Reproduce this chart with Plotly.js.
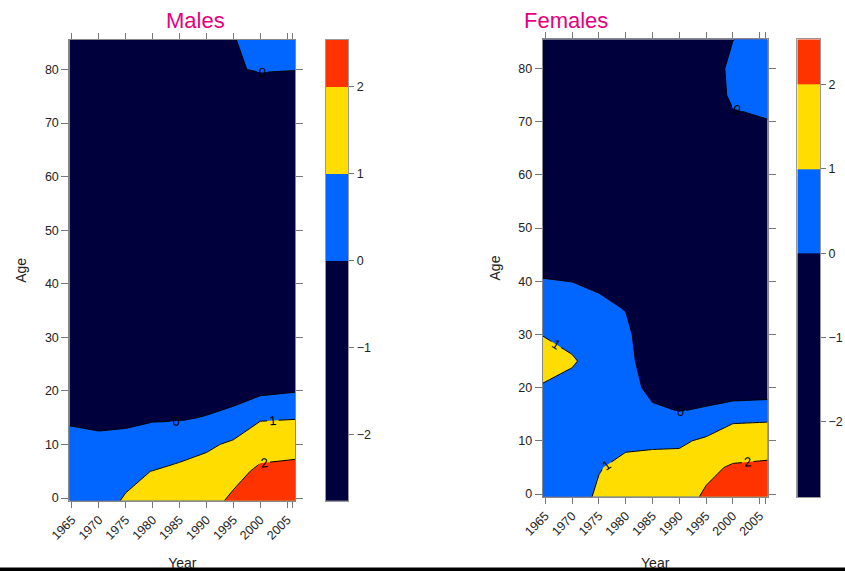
<!DOCTYPE html>
<html>
<head>
<meta charset="utf-8">
<script src="https://cdn.plot.ly/plotly-3.0.1.min.js"></script>
<style>
  html, body { margin: 0; padding: 0; background: #fff; }
  #chart { width: 845px; height: 571px; }
</style>
</head>
<body>
<div id="chart"></div>
<script>
// Grid of the surface: calendar years (columns) and ages (rows)
const years = [1964.5, 1970, 1975, 1980, 1985, 1990, 1995, 2000, 2006.5];
const ages = [-0.5, 5, 10, 15, 20, 25, 30, 35, 40, 50, 60, 70, 75, 80, 85.5];

// Males: one row per age, one value per year column
const malesZ = [
  [ 0.80,  0.85,  1.04,  1.40,  1.50,  1.70,  2.15,  2.40,  2.54],
  [ 0.60,  0.65,  0.89,  1.01,  1.15,  1.35,  1.75,  2.15,  2.20],
  [ 0.35,  0.25,  0.30,  0.50,  0.70,  0.85,  1.15,  1.65,  1.75],
  [-0.15, -0.25, -0.20, -0.10, -0.10,  0.05,  0.30,  0.90,  0.95],
  [-0.80, -0.90, -0.85, -0.75, -0.70, -0.50, -0.40, -0.20, -0.05],
  [-1.20, -1.30, -1.30, -1.20, -1.10, -0.95, -0.85, -0.70, -0.60],
  [-1.50, -1.55, -1.55, -1.45, -1.35, -1.20, -1.10, -1.00, -0.90],
  [-1.65, -1.70, -1.70, -1.60, -1.50, -1.40, -1.30, -1.20, -1.10],
  [-1.80, -1.85, -1.85, -1.75, -1.65, -1.55, -1.45, -1.35, -1.30],
  [-2.00, -2.05, -2.05, -1.95, -1.85, -1.75, -1.65, -1.55, -1.50],
  [-2.20, -2.25, -2.20, -2.10, -2.00, -1.90, -1.80, -1.70, -1.65],
  [-2.30, -2.40, -2.30, -2.20, -2.10, -1.95, -1.85, -1.60, -1.55],
  [-2.40, -2.50, -2.40, -2.30, -2.20, -1.80, -1.60, -1.20, -1.20],
  [-2.50, -2.60, -2.50, -2.40, -2.25, -1.20, -0.15,  0.15,  0.05],
  [-2.60, -2.76, -2.60, -2.45, -2.30, -0.80, -0.05,  0.40,  0.45]
];

// Females: same layout
const femalesZ = [
  [ 0.55,  0.65,  1.12,  1.40,  1.50,  1.70,  2.10,  2.35,  2.54],
  [ 0.60,  0.65,  0.96,  1.20,  1.25,  1.30,  1.84,  2.08,  2.15],
  [ 0.65,  0.60,  0.80,  0.85,  0.88,  0.88,  1.13,  1.55,  1.60],
  [ 0.75,  0.60,  0.60,  0.60,  0.24,  0.05,  0.30,  0.70,  0.75],
  [ 0.90,  0.70,  0.55,  0.45, -0.30, -0.50, -0.70, -0.70, -0.60],
  [ 1.50,  1.10,  0.60,  0.40, -0.71, -0.90, -1.00, -0.95, -0.85],
  [ 0.97,  0.70,  0.50,  0.30, -0.95, -1.10, -1.20, -1.10, -1.00],
  [ 0.50,  0.40,  0.25, -0.05, -1.10, -1.25, -1.30, -1.20, -1.10],
  [ 0.05, -0.01, -0.20, -0.50, -1.20, -1.35, -1.40, -1.30, -1.20],
  [-0.80, -0.90, -1.00, -1.20, -1.50, -1.60, -1.60, -1.40, -1.30],
  [-1.30, -1.40, -1.50, -1.60, -1.80, -1.85, -1.80, -1.00, -0.90],
  [-1.60, -1.70, -1.80, -1.90, -2.00, -2.00, -1.20, -0.30, -0.05],
  [-1.80, -1.90, -2.00, -2.10, -2.20, -2.10, -1.00,  0.30,  0.50],
  [-2.00, -2.10, -2.20, -2.30, -2.40, -2.30, -0.70,  0.30,  0.55],
  [-2.20, -2.30, -2.40, -2.90, -2.60, -2.50, -0.90, -0.02,  0.40]
];

// Contour levels and band colours (below 0, 0-1, 1-2, above 2)
const levels = [0, 1, 2];
const bandColors = ['#00003C', '#0066FF', '#FFDD00', '#FF3300'];

// Axis ticks
const yearTicks = [1965, 1970, 1975, 1980, 1985, 1990, 1995, 2000, 2005, 2006];
const yearTickText = ['1965', '1970', '1975', '1980', '1985', '1990', '1995', '2000', '2005', ''];
const ageTicks = [0, 10, 20, 30, 40, 50, 60, 70, 80];
const scaleTicks = [-2, -1, 0, 1, 2];

// Colour scale shared by the surfaces and the key strips
const bandScale = bandColors.map((c, i) => [i / (bandColors.length - 1), c]);

function zRange(z) {
  const flat = z.flat();
  return [Math.min(...flat), Math.max(...flat)];
}

function surface(z, xa, ya) {
  return {
    type: 'contour',
    x: years, y: ages, z: z,
    xaxis: xa, yaxis: ya,
    autocontour: false,
    contours: {
      start: levels[0], end: levels[levels.length - 1], size: 1,
      coloring: 'fill', showlines: true, showlabels: true,
      labelfont: { size: 13, color: '#000', family: 'Liberation Sans, Arial, sans-serif' }
    },
    line: { color: '#000', width: 1, smoothing: 0 },
    colorscale: bandScale,
    showscale: false,
    hoverinfo: 'skip'
  };
}

// Key strip: bands from the data minimum up to the data maximum
function keyStrip(z, xa, ya) {
  const [lo, hi] = zRange(z);
  const edges = [lo].concat(levels, [hi]);
  return {
    trace: {
      type: 'heatmap',
      x: [0, 1], y: edges,
      z: bandColors.map((c, i) => [i]),
      zmin: 0, zmax: bandColors.length - 1,
      colorscale: bandScale,
      showscale: false,
      xaxis: xa, yaxis: ya,
      hoverinfo: 'skip'
    },
    range: [lo, hi]
  };
}

const maleKey = keyStrip(malesZ, 'x3', 'y3');
const femaleKey = keyStrip(femalesZ, 'x4', 'y4');

const tickFont = { family: 'Liberation Sans, Arial, sans-serif', size: 12.5, color: '#222' };
const titleFont = { family: 'Liberation Sans, Arial, sans-serif', size: 14, color: '#222' };

function yearAxis(domain, anchor) {
  return {
    domain: domain, anchor: anchor,
    range: [1964.5, 2006.5],
    tickmode: 'array', tickvals: yearTicks, ticktext: yearTickText,
    tickangle: -45, ticks: 'outside', ticklen: 6, tickcolor: '#777', tickwidth: 1,
    showline: true, linecolor: '#888', linewidth: 1, mirror: 'ticks',
    showgrid: false, zeroline: false,
    tickfont: tickFont,
    title: { text: 'Year', font: titleFont, standoff: 22 }
  };
}

function ageAxis(domain, anchor) {
  return {
    domain: domain, anchor: anchor,
    range: [-0.5, 85.5],
    tickmode: 'array', tickvals: ageTicks,
    ticks: 'outside', ticklen: 7, tickcolor: '#777', tickwidth: 1,
    showline: true, linecolor: '#888', linewidth: 1, mirror: 'ticks',
    showgrid: false, zeroline: false,
    tickfont: tickFont,
    title: { text: 'Age', font: titleFont, standoff: 14 }
  };
}

function keyXAxis(domain, anchor) {
  return {
    domain: domain, anchor: anchor, range: [0, 1],
    showticklabels: false, ticks: '', showgrid: false, zeroline: false,
    showline: true, linecolor: '#999', linewidth: 1, mirror: true
  };
}

function keyYAxis(domain, anchor, range) {
  return {
    domain: domain, anchor: anchor, range: range, side: 'right',
    tickmode: 'array', tickvals: scaleTicks,
    ticks: 'outside', ticklen: 5, tickcolor: '#777',
    showgrid: false, zeroline: false,
    showline: true, linecolor: '#999', linewidth: 1, mirror: true,
    tickfont: tickFont
  };
}

const W = 845, H = 571;
const maleX = [69.3 / W, 295.3 / W], maleY = [1 - 500.7 / H, 1 - 40 / H];
const femaleX = [542.7 / W, 767.7 / W], femaleY = [1 - 496.7 / H, 1 - 39.3 / H];

const layout = {
  width: W, height: H,
  margin: { l: 0, r: 0, t: 0, b: 0 },
  paper_bgcolor: '#fff', plot_bgcolor: '#fff',
  showlegend: false,
  font: { family: 'Liberation Sans, Arial, sans-serif', size: 13, color: '#333' },
  xaxis: yearAxis(maleX, 'y'),
  yaxis: ageAxis(maleY, 'x'),
  xaxis2: yearAxis(femaleX, 'y2'),
  yaxis2: ageAxis(femaleY, 'x2'),
  xaxis3: keyXAxis([326 / W, 348.3 / W], 'y3'),
  yaxis3: keyYAxis(maleY, 'x3', maleKey.range),
  xaxis4: keyXAxis([797.3 / W, 820 / W], 'y4'),
  yaxis4: keyYAxis([1 - 497.3 / H, 1 - 39.3 / H], 'x4', femaleKey.range),
  annotations: [
    { text: 'Males', xref: 'paper', yref: 'paper', x: 195 / W, y: 1 - 20 / H,
      xanchor: 'center', yanchor: 'middle', showarrow: false,
      font: { family: 'Liberation Sans, Arial, sans-serif', size: 22, color: '#E6007E' } },
    { text: 'Females', xref: 'paper', yref: 'paper', x: 566 / W, y: 1 - 20 / H,
      xanchor: 'center', yanchor: 'middle', showarrow: false,
      font: { family: 'Liberation Sans, Arial, sans-serif', size: 22, color: '#E6007E' } }
  ],
  shapes: [
    { type: 'rect', xref: 'paper', yref: 'paper', x0: 0, x1: 1, y0: 0, y1: 3.5 / H,
      fillcolor: '#000', line: { width: 0 }, layer: 'above' }
  ]
};

const data = [
  surface(malesZ, 'x', 'y'),
  surface(femalesZ, 'x2', 'y2'),
  maleKey.trace,
  femaleKey.trace
];

Plotly.newPlot('chart', data, layout, { displayModeBar: false, staticPlot: true });
</script>
</body>
</html>
